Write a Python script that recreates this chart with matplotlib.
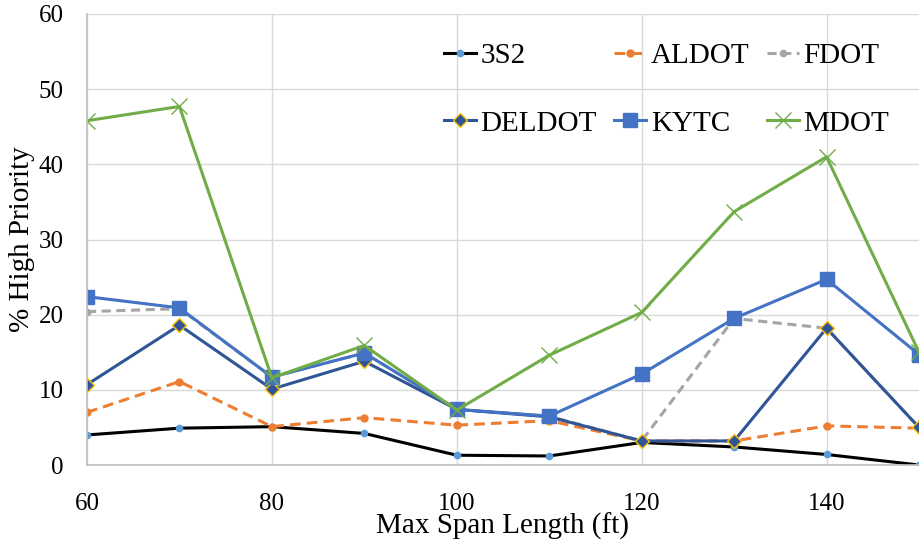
import matplotlib
matplotlib.use("Agg")
import matplotlib.pyplot as plt

span = [60, 70, 80, 90, 100, 110, 120, 130, 140, 150]
s3s2 = [4.0, 4.9, 5.1, 4.2, 1.3, 1.2, 3.0, 2.4, 1.4, 0.0]
aldot = [7.0, 11.1, 5.1, 6.3, 5.3, 5.9, 3.2, 3.2, 5.2, 4.9]
fdot = [20.4, 20.8, 11.7, 14.9, 7.4, 6.5, 3.2, 19.5, 18.2, 5.0]
deldot = [10.7, 18.6, 10.1, 13.8, 7.4, 6.4, 3.2, 3.2, 18.2, 5.0]
kytc = [22.4, 20.9, 11.7, 14.9, 7.4, 6.5, 12.1, 19.5, 24.7, 14.7]
mdot = [45.8, 47.7, 11.6, 15.9, 7.3, 14.6, 20.3, 33.7, 41.0, 15.0]

plt.rcParams['font.family'] = ['Liberation Serif', 'DejaVu Serif']

fig = plt.figure(figsize=(9.19, 5.48), dpi=100)
ax = fig.add_axes([87/919, 1 - 465/548, 832/919, 451/548])

lw = 2.2
h1, = ax.plot(span, s3s2, color='black', lw=lw, marker='o', ms=4.5,
              mfc='#5B9BD5', mec='#5B9BD5', label='3S2')
h2, = ax.plot(span, aldot, color='#ED7D31', lw=lw, dashes=(3.5, 2), marker='o', ms=5,
              mfc='#ED7D31', mec='#ED7D31', label='ALDOT')
h3, = ax.plot(span, fdot, color='#A5A5A5', lw=lw, dashes=(3, 1.8), marker='o', ms=4.5,
              mfc='#A5A5A5', mec='#A5A5A5', label='FDOT')
h4, = ax.plot(span, deldot, color='#2F5597', lw=lw, marker='D', ms=7.5,
              mfc='#2F5597', mec='#FFC000', mew=1, label='DELDOT')
h5, = ax.plot(span, kytc, color='#4472C4', lw=lw, marker='s', ms=9.5,
              mfc='#4472C4', mec='#4472C4', label='KYTC')
h6, = ax.plot(span, mdot, color='#70AD47', lw=lw, marker='x', ms=11, mew=1,
              mfc='#70AD47', mec='#70AD47', label='MDOT')

ax.set_xlim(60, 150)
ax.set_ylim(0, 60)
ax.set_xticks([60, 80, 100, 120, 140])
ax.set_yticks(range(0, 61, 10))
ax.grid(True, color='#D9D9D9', lw=1)
ax.set_axisbelow(True)
for s in ['top', 'right']:
    ax.spines[s].set_visible(False)
for s in ['left', 'bottom']:
    ax.spines[s].set_color('#BFBFBF')
    ax.spines[s].set_linewidth(1.2)
ax.tick_params(axis='both', length=0, labelsize=18)
ax.tick_params(axis='y', pad=17)
ax.tick_params(axis='x', pad=20)

ax.set_xlabel('Max Span Length (ft)', fontsize=21)
ax.set_ylabel('% High Priority', fontsize=21)
ax.xaxis.set_label_coords(0.5, -0.106)
ax.yaxis.set_label_coords(-0.062, 0.5)

# row-wise order like the original legend
handles = [h1, h4, h2, h5, h3, h6]
ax.legend(handles=handles, ncol=3, frameon=False, fontsize=21, loc='upper left',
          bbox_to_anchor=(444/919, 1 - 43/548), bbox_transform=fig.transFigure,
          borderpad=0, borderaxespad=0, handlelength=1.1, handletextpad=0.15,
          columnspacing=0.6, labelspacing=1.4)

fig.savefig('out.png', dpi=100)
